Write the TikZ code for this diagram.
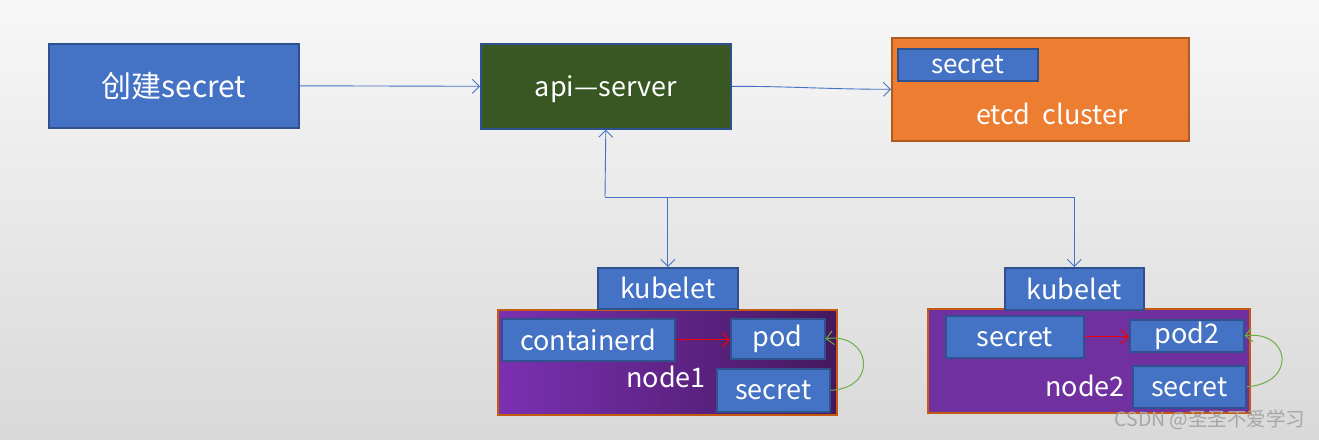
\documentclass[tikz,border=0pt]{standalone}
\usepackage{fontspec}
\setmainfont{Noto Sans CJK SC}
\usetikzlibrary{arrows.meta}
\definecolor{bbl}{HTML}{4472C4}
\definecolor{bbd}{HTML}{2F528F}
\definecolor{dgreen}{HTML}{385723}
\definecolor{orng}{HTML}{ED7D31}
\definecolor{orngd}{HTML}{AE5A21}
\definecolor{purp}{HTML}{7030A0}
\definecolor{purpl}{HTML}{7B30B2}
\definecolor{purpd}{HTML}{44185E}
\definecolor{brn}{HTML}{C55A11}
\definecolor{lgreen}{HTML}{70AD47}
\definecolor{wm}{HTML}{A6A6A6}
\definecolor{rd}{HTML}{F00000}
\tikzset{
  bluebox/.style={draw=bbd, line width=1.6pt, fill=bbl, text=white, inner sep=0pt, anchor=north west},
  txt/.style={font=\fontsize{27}{30}\selectfont},
  conn/.style={draw=bbl, line width=0.9pt, -{Straight Barb[length=7pt,width=14pt]}},
  redarr/.style={draw=rd, line width=1.2pt, -{Straight Barb[length=7pt,width=14pt]}},
  greenarr/.style={draw=lgreen, line width=1pt, -{Straight Barb[length=7pt,width=14pt]}},
}
\begin{document}
\begin{tikzpicture}[x=1pt,y=-1pt]
\shade[top color=white!97!black, bottom color=white!85!black] (0,0) rectangle (1319,439);
\useasboundingbox (0,0) rectangle (1319,439);
% top row
\node[bluebox, minimum width=250pt, minimum height=84pt, font=\fontsize{30}{34}\selectfont] (create) at (48,43) {创建secret};
\node[draw=bbd, line width=1.6pt, fill=dgreen, text=white, inner sep=0pt, anchor=north west,
      minimum width=250pt, minimum height=85pt, txt] (api) at (480,43) {\raisebox{-10pt}[0pt][0pt]{api—server}};
\node[draw=orngd, line width=1.6pt, fill=orng, inner sep=0pt, anchor=north west,
      minimum width=297pt, minimum height=103pt] (etcd) at (891,37) {};
\node[bluebox, minimum width=140pt, minimum height=32pt, font=\fontsize{26}{28}\selectfont] (esec) at (897,48) {secret};
\node[text=white, txt] (etcdlbl) at (1052,114) {etcd\ \ cluster};
\draw[conn] (create.east) -- (api.west);
\draw[conn] (api.east) to[out=0,in=180] (etcd.west);
% node1
\node[draw=brn, line width=1.6pt, left color=purpl, right color=purpd, inner sep=0pt, anchor=north west,
      minimum width=339pt, minimum height=105pt] (n1) at (497,309) {};
\node[bluebox, minimum width=140pt, minimum height=41pt, txt] (kub1) at (597,267) {kubelet};
\node[bluebox, minimum width=173pt, minimum height=42pt, txt] (cont) at (501,318) {containerd};
\node[bluebox, minimum width=94pt, minimum height=40pt, txt] (pod1) at (730,318) {pod};
\node[bluebox, minimum width=113pt, minimum height=43pt, txt] (sec1) at (716,368) {secret};
\node[text=white, txt] (n1lbl) at (666,377) {node1};
\draw[redarr] (cont.east) -- (cont.east -| pod1.west);
\draw[greenarr] (sec1.east) .. controls (880,388) and (870,332) .. (pod1.east);
% node2
\node[draw=brn, line width=1.6pt, fill=purp, inner sep=0pt, anchor=north west,
      minimum width=322pt, minimum height=104pt] (n2) at (927,308) {};
\node[bluebox, minimum width=139pt, minimum height=42pt, txt] (kub2) at (1004,267) {kubelet};
\node[bluebox, minimum width=138pt, minimum height=42pt, txt] (sec2a) at (945,315) {secret};
\node[bluebox, minimum width=114pt, minimum height=32pt, txt] (pod2) at (1129,319) {pod2};
\node[bluebox, minimum width=113pt, minimum height=42pt, txt] (sec2b) at (1132,365) {secret};
\node[text=white, txt] (n2lbl) at (1085,386) {node2};
\draw[redarr] (sec2a.east) -- (sec2a.east -| pod2.west);
\draw[greenarr] (sec2b.east) .. controls (1298,383) and (1290,330) .. (pod2.east);
% bus
\coordinate (bus) at (605,197);
\coordinate (bus1) at (kub1.north |- bus);
\coordinate (bus2) at (kub2.north |- bus);
\draw[conn] (bus) -- (api.south);
\draw[draw=bbl, line width=0.9pt] (bus) -- (bus2);
\draw[conn] (bus1) -- (kub1.north);
\draw[conn] (bus2) -- (kub2.north);
% watermark
\node[text=wm, font=\fontsize{19.5}{22}\selectfont] (wmk) at (1210,420) {CSDN @圣圣不爱学习};
\end{tikzpicture}
\end{document}
